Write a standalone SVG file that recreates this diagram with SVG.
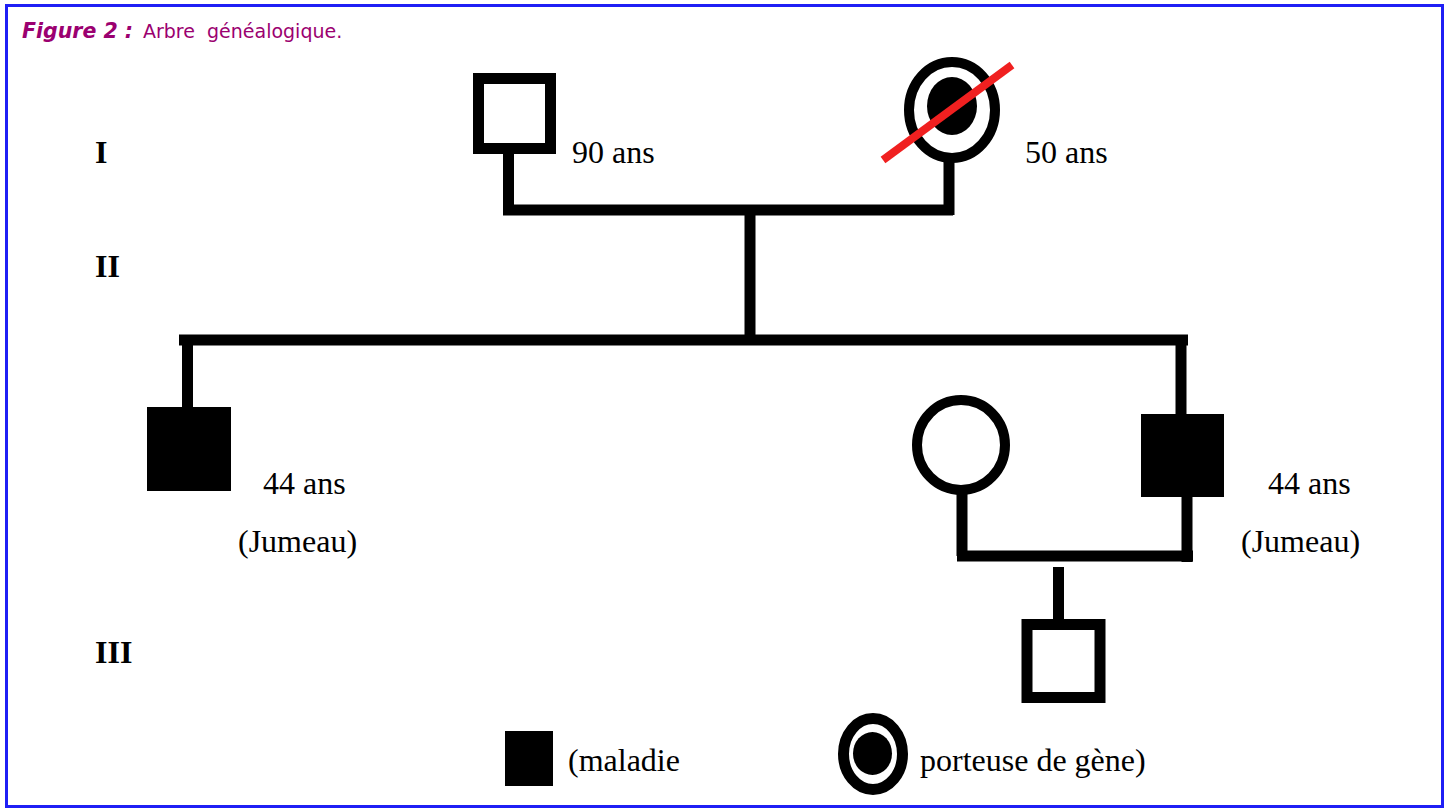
<svg xmlns="http://www.w3.org/2000/svg" width="1449" height="812" viewBox="0 0 1449 812">
<style>
.lbl{font-family:"Liberation Serif","Times New Roman",serif;font-size:32px;fill:#000}
.gen{font-family:"Liberation Serif","Times New Roman",serif;font-size:32px;font-weight:bold;fill:#000}
.ttl{font-family:"DejaVu Sans",Verdana,sans-serif;font-size:19px;fill:#9B0070}
.ln{stroke:#000;stroke-width:11;fill:none;stroke-linecap:butt}
.sq{fill:#fff;stroke:#000;stroke-width:11}
.fsq{fill:#000;stroke:none}
</style>
<rect x="0" y="0" width="1449" height="812" fill="#fff"/>
<rect x="6.5" y="5.5" width="1436" height="801" fill="none" stroke="#1f1ff5" stroke-width="3"/>
<text class="ttl" x="22" y="38" xml:space="preserve"><tspan font-weight="bold" font-style="italic" font-size="20.5">Figure 2 :</tspan><tspan x="143">Arbre  généalogique.</tspan></text>
<g id="generations">
<text class="gen" x="95" y="163">I</text>
<text class="gen" x="95" y="277">II</text>
<text class="gen" x="95" y="663">III</text>
</g>
<g id="connectors">
<path class="ln" d="M508.5,154 V210 M503,210 H953 M949,160 V215"/>
<path class="ln" d="M750,210 V340 M179,340 H1188"/>
<path class="ln" d="M187.5,340 V408"/>
<path class="ln" d="M1181,335 V414"/>
<path class="ln" d="M1187,497 V562 M957,556 H1193 M962,494 V556"/>
<path class="ln" d="M1058.5,567 V620"/>
</g>
<g id="I-1">
<rect class="sq" x="478.5" y="78.5" width="72" height="70"/>
<text class="lbl" x="572" y="163">90 ans</text>
</g>
<g id="I-2">
<ellipse cx="952" cy="110" rx="43" ry="48" fill="#fff" stroke="#000" stroke-width="10"/>
<ellipse cx="952" cy="106" rx="25" ry="29" fill="#000"/>
<line x1="883" y1="160" x2="1012" y2="65" stroke="#f02020" stroke-width="8"/>
<text class="lbl" x="1025" y="163">50 ans</text>
</g>
<g id="II-1">
<rect class="fsq" x="147" y="407" width="84" height="84"/>
<text class="lbl" x="263" y="494">44 ans</text>
<text class="lbl" x="238" y="552">(Jumeau)</text>
</g>
<g id="II-spouse">
<ellipse cx="961" cy="445" rx="44" ry="45" fill="#fff" stroke="#000" stroke-width="10"/>
</g>
<g id="II-2">
<rect class="fsq" x="1141" y="414" width="83" height="83"/>
<text class="lbl" x="1268" y="494">44 ans</text>
<text class="lbl" x="1241" y="552">(Jumeau)</text>
</g>
<g id="III-1">
<rect class="sq" x="1027" y="624.5" width="73" height="73"/>
</g>
<g id="legend">
<rect class="fsq" x="505" y="731" width="48" height="55"/>
<text class="lbl" x="568" y="771">(maladie</text>
<ellipse cx="873" cy="754" rx="29.5" ry="35.5" fill="#fff" stroke="#000" stroke-width="11"/>
<ellipse cx="872.5" cy="753.5" rx="19.5" ry="21.5" fill="#000"/>
<text class="lbl" x="920" y="771">porteuse de gène)</text>
</g>
</svg>
